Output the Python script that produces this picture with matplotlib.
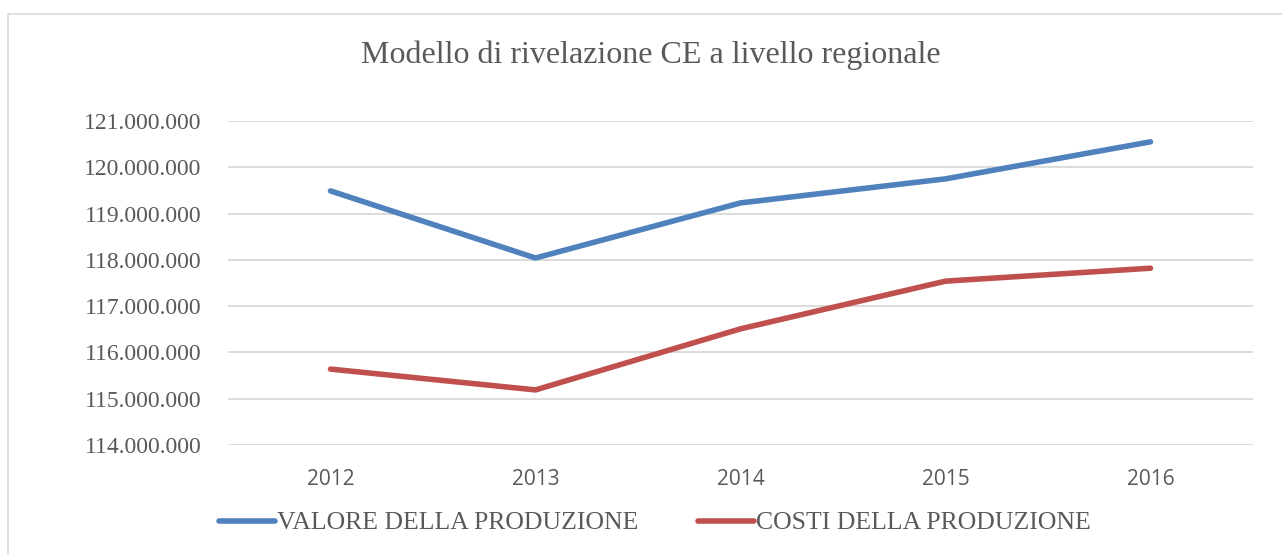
# -*- coding: utf-8 -*-
"""
Modello di rivelazione CE a livello regionale - line chart.
"""

import matplotlib.pyplot as plt
import numpy as np
from matplotlib.patches import Rectangle
from matplotlib.ticker import FuncFormatter

#-----------------------------------------------------------------------------------------------------------------------
# Data
years = ['2012', '2013', '2014', '2015', '2016']
valore = [119490000, 118040000, 119230000, 119750000, 120550000]
costi = [115640000, 115190000, 116510000, 117540000, 117820000]
series_labels = ['VALORE DELLA PRODUZIONE', 'COSTI DELLA PRODUZIONE']
y_ticks = [114000000, 115000000, 116000000, 117000000, 118000000, 119000000, 120000000, 121000000]
title = 'Modello di rivelazione CE a livello regionale'

#-----------------------------------------------------------------------------------------------------------------------
# Plot
text_col = '#595959'
grid_col = '#D9D9D9'
serif = ['Liberation Serif', 'DejaVu Serif']

fig = plt.figure(figsize=(12.82, 5.55), dpi=100)
ax = fig.add_axes([228 / 1282, 1 - 445 / 555, 1025 / 1282, 324 / 555])

x = np.arange(len(years))
ax.plot(x, valore, color='#4F81BD', linewidth=4, solid_capstyle='round', label=series_labels[0])
ax.plot(x, costi, color='#C0504D', linewidth=4, solid_capstyle='round', label=series_labels[1])

ax.set_xlim(-0.5, len(years) - 0.5)
ax.set_ylim(y_ticks[0], y_ticks[-1])
ax.set_yticks(y_ticks)
ax.yaxis.set_major_formatter(FuncFormatter(lambda v, _: f'{int(v):,}'.replace(',', '.')))
ax.set_xticks(x, years)

for lab in ax.get_yticklabels():
    lab.set_fontfamily(serif)
    lab.set_fontsize(17)
    lab.set_color(text_col)
for lab in ax.get_xticklabels():
    lab.set_fontfamily(['Open Sans', 'DejaVu Sans'])
    lab.set_fontsize(15)
    lab.set_color(text_col)

ax.tick_params(axis='y', length=0, pad=19)
ax.tick_params(axis='x', length=0, pad=17)
for s in ax.spines.values():
    s.set_visible(False)
ax.grid(axis='y', color=grid_col, linewidth=1.3)
ax.set_axisbelow(True)

fig.text(651 / 1282, 1 - 55 / 555, title, ha='center', va='center',
         fontfamily=serif, fontsize=23, color=text_col)

fig.legend(loc='center', bbox_to_anchor=(655 / 1282, 1 - 523 / 555), ncol=2, frameon=False,
           prop={'family': serif, 'size': 18.5}, labelcolor=text_col,
           handlelength=2.2, handletextpad=0.08, columnspacing=2.3)

# chart border
fig.patches.append(Rectangle((8 / 1282, -0.1), 1.2, 1.1 - 14 / 555, transform=fig.transFigure,
                             fill=False, edgecolor=grid_col, linewidth=1.2))

plt.savefig('out.png', dpi=100)
plt.close()
